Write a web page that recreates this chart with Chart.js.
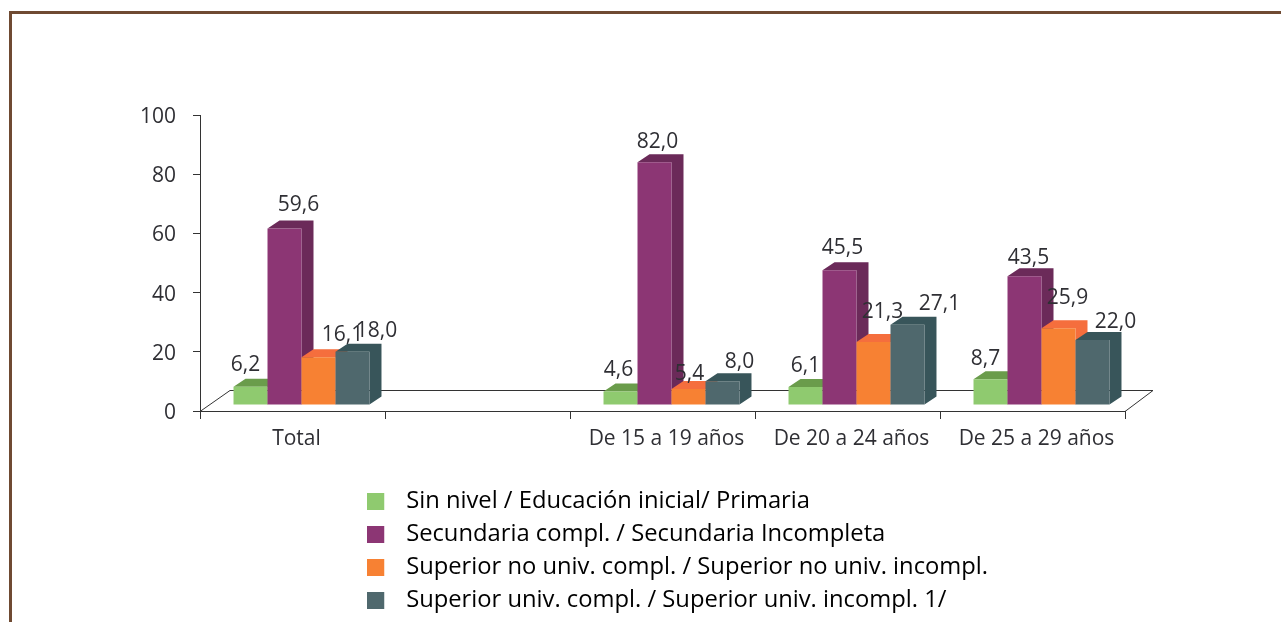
<!DOCTYPE html>
<html><head><meta charset="utf-8">
<style>
html,body{margin:0;padding:0;background:#fff;overflow:hidden}
#wrap{position:relative;width:1281px;height:622px}
#frame{position:absolute;left:9px;top:11px;width:1272px;height:611px;border-left:3px solid #6f4a32;border-top:3px solid #6f4a32;box-sizing:border-box}
canvas{position:absolute;left:0;top:0;display:block}
</style>
<script src="https://cdn.jsdelivr.net/npm/chart.js@4/dist/chart.umd.js"></script>
</head><body>
<div id="wrap"><div id="frame"></div><canvas id="c" width="1281" height="622"></canvas></div>
<script>
const categories = ['Total', '', 'De 15 a 19 años', 'De 20 a 24 años', 'De 25 a 29 años'];
const sinNivel = [6.2, null, 4.6, 6.1, 8.7];
const secundaria = [59.6, null, 82.0, 45.5, 43.5];
const superiorNoUniv = [16.1, null, 5.4, 21.3, 25.9];
const superiorUniv = [18.0, null, 8.0, 27.1, 22.0];
const seriesNames = [
  'Sin nivel / Educación inicial/ Primaria',
  'Secundaria compl. / Secundaria Incompleta',
  'Superior no univ. compl. / Superior no univ. incompl.',
  'Superior univ. compl. / Superior univ. incompl. 1/'
];
const yTicks = [0, 20, 40, 60, 80, 100];

const FONT = '"Open Sans"';
const INK = '#2f2f34';
const front = ['#8fca6f', '#8c3674', '#f78133', '#4f686d'];
const shade = ['#6a9c4b', '#6b2a59', '#f56e3d', '#38555a'];
const labelNudge = [
  [[-5,-22], null, [-2,-21], [0,-21], [-5,-20]],
  [[14,-24], null, [3,-20], [3,-22], [4,-18]],
  [[24,-22], null, [1,-15], [9,-30], [9,-30]],
  [[24,-21], null, [17,-19], [32,-21], [23,-18]]
];
const SHIFT_X = 9, SHIFT_Y = -6, DX = 12, DY = 8;
const SWATCH_SLOT = 27;

function swatch(color){
  const c = document.createElement('canvas');
  c.width = SWATCH_SLOT; c.height = 17;
  const g = c.getContext('2d');
  g.fillStyle = color; g.fillRect(0, 0, 17, 17);
  return c;
}
const swatches = front.map(swatch);

const bars3d = {
  id: 'bars3d',
  beforeDatasetsDraw(chart){
    const {ctx, scales:{x, y}} = chart;
    const y0 = y.getPixelForValue(0);
    const backY = y0 - 21;
    ctx.save();
    ctx.strokeStyle = '#333'; ctx.lineWidth = 1;
    ctx.beginPath();
    ctx.moveTo(x.left, y0 + .5);
    ctx.lineTo(x.left + 30, backY + .5);
    ctx.lineTo(x.right + 28, backY + .5);
    ctx.lineTo(x.right, y0 + .5);
    ctx.stroke();
    ctx.restore();
    // Draw left to right so each bar's front covers its left neighbour's side face.
    chart.data.datasets.forEach((ds, i) => {
      const meta = chart.getDatasetMeta(i);
      ctx.save();
      ctx.translate(SHIFT_X, SHIFT_Y);
      ctx.fillStyle = shade[i];
      meta.data.forEach((el, j) => {
        if (ds.data[j] === null) return;
        const p = el.getProps(['x','y','base','width'], true);
        const l = p.x - p.width/2, r = p.x + p.width/2;
        ctx.beginPath();
        ctx.moveTo(l, p.y); ctx.lineTo(l + DX, p.y - DY); ctx.lineTo(r + DX, p.y - DY);
        ctx.lineTo(r + DX, p.base - DY); ctx.lineTo(r, p.base); ctx.lineTo(r, p.y);
        ctx.closePath(); ctx.fill();
      });
      meta.controller.draw();
      ctx.restore();
    });
  },
  beforeDatasetDraw(){ return false; },
  afterDraw(chart){
    const {ctx} = chart;
    ctx.save();
    ctx.font = '21px ' + FONT; ctx.fillStyle = INK;
    ctx.textAlign = 'center'; ctx.textBaseline = 'middle';
    chart.data.datasets.forEach((ds, i) => {
      chart.getDatasetMeta(i).data.forEach((el, j) => {
        const v = ds.data[j];
        if (v === null) return;
        const n = labelNudge[i][j];
        ctx.fillText(v.toFixed(1).replace('.', ','), el.x + SHIFT_X + n[0], el.y + SHIFT_Y + n[1]);
      });
    });
    ctx.restore();
  },
  afterLayout(chart){
    const lg = chart.legend;
    lg.left = 358; lg.right = 1150; lg.top = 480; lg.bottom = 700;
    lg.width = 792; lg.height = 220;
  }
};

new Chart(document.getElementById('c'), {
  type: 'bar',
  plugins: [bars3d],
  data: {
    labels: categories,
    datasets: [sinNivel, secundaria, superiorNoUniv, superiorUniv].map((d, i) => ({
      label: seriesNames[i], data: d, backgroundColor: front[i], borderWidth: 0, clip: false,
      categoryPercentage: 0.735, barPercentage: 1
    }))
  },
  options: {
    responsive: false, animation: false,
    layout: {padding: {left: 10, top: 115, right: 156, bottom: 161}},
    plugins: {
      tooltip: {enabled: false},
      legend: {
        position: 'chartArea', align: 'start',
        labels: {
          usePointStyle: true, pointStyleWidth: SWATCH_SLOT, padding: 9.25, color: INK,
          font: {family: FONT, size: 23.75},
          generateLabels: chart => chart.data.datasets.map((ds, i) => ({
            text: ds.label, pointStyle: swatches[i], fillStyle: front[i], strokeStyle: front[i],
            lineWidth: 0, hidden: false, datasetIndex: i
          }))
        }
      }
    },
    scales: {
      x: {
        afterFit(s){ s.height = 50; },
        border: {display: true, color: '#333', width: 1},
        grid: {display: true, drawOnChartArea: false, drawTicks: true, tickLength: 8, color: '#333', offset: true},
        ticks: {color: INK, font: {family: FONT, size: 21}, padding: 7, labelOffset: 4, maxRotation: 0, autoSkip: false}
      },
      y: {
        min: 0, max: 100,
        afterFit(s){ s.width = 190; },
        afterBuildTicks(s){ s.ticks = yTicks.map(v => ({value: v})); },
        border: {display: true, color: '#333', width: 1},
        grid: {display: true, drawOnChartArea: false, drawTicks: true, tickLength: 7, color: '#333'},
        ticks: {color: INK, font: {family: FONT, size: 21}, padding: 17, labelOffset: 2}
      }
    }
  }
});
</script>
</body></html>
